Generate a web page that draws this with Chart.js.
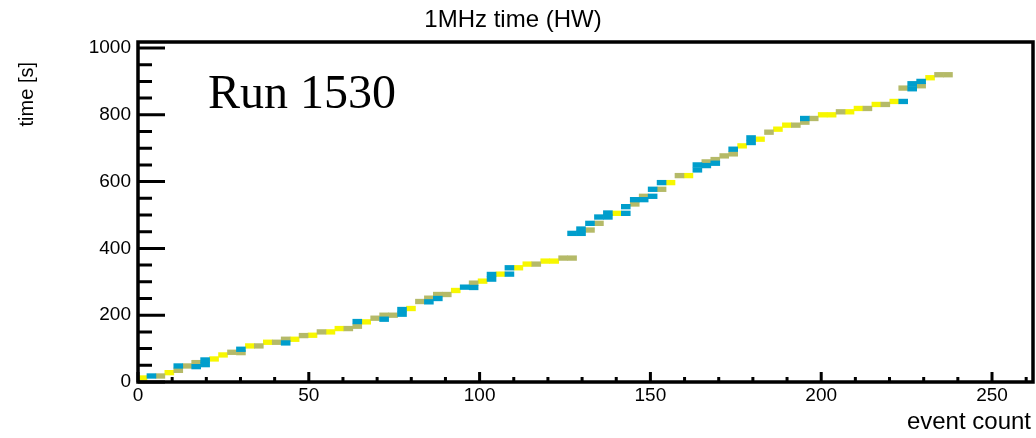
<!DOCTYPE html>
<html>
<head>
<meta charset="utf-8">
<script src="https://cdn.jsdelivr.net/npm/chart.js@4.4.1/dist/chart.umd.min.js"></script>
<style>
  html, body { margin: 0; padding: 0; background: #fff; }
  #wrap { width: 1036px; height: 438px; }
</style>
</head>
<body>
<div id="wrap"><canvas id="chart" width="1036" height="438"></canvas></div>
<script>
// histogram binning (event count per x bin, seconds per y bin)
const eventBinWidth = 2.62;
const timeBinHeight = 14;

// axis ranges and ticks
const xMax = 262;
const yMax = 1018;
const xTickLabels = [0, 50, 100, 150, 200, 250];
const yTickLabels = [0, 200, 400, 600, 800, 1000];
const xMinorStep = 10;
const yMinorStep = 50;

// filled cells: [event-count bin index, time in s at cell centre]
const blueCells = [
  [1, 18], [4, 48], [6, 46], [7, 52], [7, 66], [11, 98], [16, 117], [24, 181], [27, 188],
  [29, 203], [29, 217], [32, 240], [33, 250], [36, 284], [37, 283], [39, 308], [39, 322],
  [41, 323], [41, 342], [48, 445], [49, 445], [49, 458], [50, 475], [51, 494], [52, 494],
  [52, 506], [54, 505], [54, 525], [55, 546], [56, 546], [57, 556], [57, 577], [58, 597],
  [62, 635], [62, 650], [63, 648], [64, 655], [66, 697], [68, 717], [68, 731], [74, 789],
  [85, 840], [86, 878], [86, 893], [87, 900]
];
const oliveCells = [
  [2, 18], [4, 35], [5, 48], [6, 58], [10, 89], [11, 88], [13, 108], [15, 119], [16, 128],
  [18, 139], [20, 150], [23, 160], [24, 167], [26, 191], [27, 200], [28, 200], [31, 241],
  [32, 251], [33, 262], [34, 262], [37, 296], [44, 353], [47, 371], [48, 371], [50, 455],
  [51, 475], [55, 533], [56, 556], [58, 577], [60, 618], [63, 659], [64, 666], [65, 677],
  [66, 683], [70, 748], [73, 769], [74, 778], [75, 789], [78, 809], [81, 819], [83, 831],
  [85, 880], [87, 887], [89, 920], [90, 920]
];
const yellowCells = [
  [0, 12], [3, 28], [8, 69], [9, 81], [12, 108], [14, 119], [17, 128], [19, 140], [21, 150],
  [22, 160], [25, 180], [30, 220], [35, 274], [38, 302], [40, 323], [42, 342], [43, 353],
  [45, 362], [46, 362], [53, 505], [59, 597], [61, 618], [67, 707], [69, 727], [71, 757],
  [72, 769], [76, 800], [77, 800], [79, 809], [80, 819], [82, 831], [84, 840], [88, 911]
];

const toBars = (cells) => cells.map(([bin, t]) => ({
  x: (bin + 0.5) * eventBinWidth,
  y: [t - timeBinHeight / 2, t + timeBinHeight / 2],
}));

const cellDataset = (label, cells, color) => ({
  label,
  data: toBars(cells),
  backgroundColor: color,
  borderWidth: 0,
  grouped: false,
  barPercentage: 1,
  categoryPercentage: 1,
});

const FONT = '"Liberation Sans", Arial, sans-serif';

// ROOT-style frame: inward ticks, thick box, titles
const rootFrame = {
  id: 'rootFrame',
  afterDraw(chart) {
    const { ctx, chartArea: a, scales: { x, y } } = chart;
    ctx.save();
    ctx.strokeStyle = '#000';
    ctx.fillStyle = '#000';
    ctx.lineWidth = 3;
    ctx.beginPath();
    for (let v = 0; v <= xMax; v += xMinorStep) {
      const px = x.getPixelForValue(v);
      const len = xTickLabels.includes(v) ? 10 : 5;
      ctx.moveTo(px, a.bottom);
      ctx.lineTo(px, a.bottom - len);
    }
    for (let v = 0; v <= yMax; v += yMinorStep) {
      const py = y.getPixelForValue(v);
      const len = yTickLabels.includes(v) ? 27 : 14;
      ctx.moveTo(a.left, py);
      ctx.lineTo(a.left + len, py);
    }
    ctx.stroke();
    ctx.lineWidth = 3.5;
    ctx.strokeRect(a.left, a.top, a.right - a.left, a.bottom - a.top);

    ctx.font = `24px ${FONT}`;
    ctx.textAlign = 'center';
    ctx.textBaseline = 'alphabetic';
    ctx.fillText('1MHz time (HW)', 513, 27);

    ctx.textAlign = 'right';
    ctx.fillText('event count', a.right - 2, 429);

    ctx.save();
    ctx.font = `20px ${FONT}`;
    ctx.translate(33, a.top + 20);
    ctx.rotate(-Math.PI / 2);
    ctx.textAlign = 'right';
    ctx.fillText('time [s]', 0, 0);
    ctx.restore();

    ctx.font = '48px "Liberation Serif", "Times New Roman", serif';
    ctx.textAlign = 'left';
    ctx.fillText('Run 1530', 208, 108);
    ctx.restore();
  },
};

new Chart(document.getElementById('chart'), {
  type: 'bar',
  data: {
    datasets: [
      cellDataset('low', blueCells, '#009ecc'),
      cellDataset('mid', oliveCells, '#b5ba68'),
      cellDataset('high', yellowCells, '#f7f700'),
    ],
  },
  options: {
    responsive: false,
    animation: false,
    devicePixelRatio: 1,
    layout: { padding: { top: 42, right: 3, left: 0, bottom: 0 } },
    plugins: { legend: { display: false }, tooltip: { enabled: false }, title: { display: false } },
    scales: {
      x: {
        type: 'linear',
        min: 0,
        max: xMax,
        offset: false,
        grid: { display: false, drawTicks: false },
        border: { display: false },
        afterBuildTicks: (scale) => { scale.ticks = xTickLabels.map((value) => ({ value })); },
        ticks: {
          maxRotation: 0,
          autoSkip: false,
          padding: 2,
          color: '#000',
          font: { family: FONT, size: 19 },
          callback: (value) => String(value),
        },
        afterFit: (scale) => { scale.height = 56; },
      },
      y: {
        min: 0,
        max: yMax,
        grid: { display: false, drawTicks: false },
        border: { display: false },
        afterBuildTicks: (scale) => { scale.ticks = yTickLabels.map((value) => ({ value })); },
        ticks: {
          autoSkip: false,
          padding: 7,
          color: '#000',
          font: { family: FONT, size: 19 },
          callback: (value) => String(value),
        },
        afterFit: (scale) => { scale.width = 138; },
      },
    },
  },
  plugins: [rootFrame],
});
</script>
</body>
</html>
